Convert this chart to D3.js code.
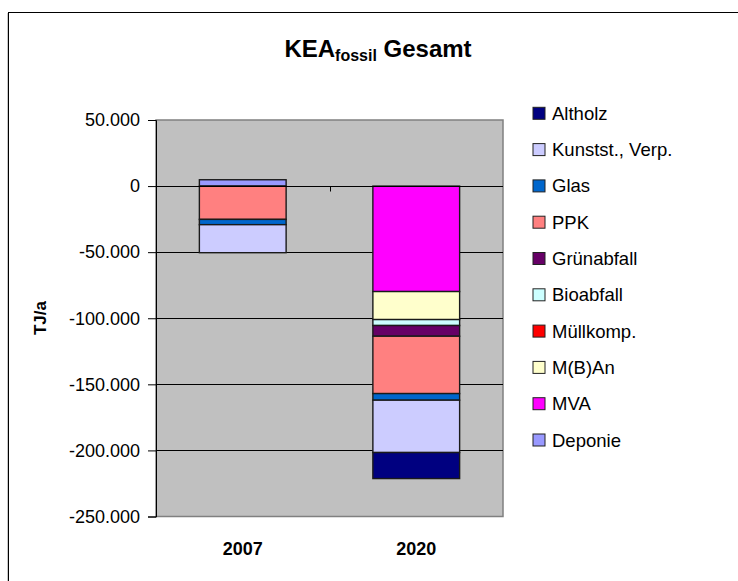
<!DOCTYPE html>
<html>
<head>
<meta charset="utf-8">
<script src="https://cdn.jsdelivr.net/npm/d3@7"></script>
<style>
  html, body { margin: 0; padding: 0; background: #fff; }
  svg { display: block; font-family: "Liberation Sans", Arial, sans-serif; }
</style>
</head>
<body>
<svg id="chart" width="738" height="581"></svg>
<script>
// Years on the category axis
const years = ["2007", "2020"];

// Series in stacking order (first series sits next to the zero line)
const seriesNames = ["Deponie", "MVA", "M(B)An", "Müllkomp.", "Bioabfall",
                     "Grünabfall", "PPK", "Glas", "Kunstst., Verp.", "Altholz"];
const seriesColors = ["#9999ff", "#ff00ff", "#ffffcc", "#ff0000", "#ccffff",
                      "#660066", "#ff8080", "#0066cc", "#ccccff", "#000080"];

// KEA fossil in TJ/a per series, one value per year
const deponie   = [4800, 0];
const mva       = [0, -79800];
const mban      = [0, -21200];
const muellkomp = [0, 0];
const bioabfall = [0, -4500];
const gruen     = [0, -8100];
const ppk       = [-25200, -43400];
const glas      = [-4000, -5000];
const kunstst   = [-21200, -39600];
const altholz   = [0, -19700];

// Y axis ticks
const yTicks = [50000, 0, -50000, -100000, -150000, -200000, -250000];

const seriesValues = [deponie, mva, mban, muellkomp, bioabfall, gruen, ppk, glas, kunstst, altholz];

const svg = d3.select("#chart");

// Chart frame (top and left edges)
svg.append("line").attr("x1", 7.5).attr("x2", 7.5).attr("y1", 13).attr("y2", 581)
  .attr("stroke", "#c8c8c8").attr("stroke-width", 1);
svg.append("line").attr("x1", 8.5).attr("x2", 8.5).attr("y1", 12.5).attr("y2", 581)
  .attr("stroke", "#000").attr("stroke-width", 1);
svg.append("line").attr("x1", 8).attr("x2", 738).attr("y1", 12.5).attr("y2", 12.5)
  .attr("stroke", "#000").attr("stroke-width", 1);

// Plot area
const plot = { left: 156, right: 503, top: 120, bottom: 516.5 };

const x = d3.scaleBand().domain(years)
  .range([plot.left, plot.right]).paddingInner(0.5).paddingOuter(0.25);
const xCat = d3.scaleBand().domain(years).range([plot.left, plot.right]);
const y = d3.scaleLinear().domain([-250000, 50000]).range([plot.bottom, plot.top]);

svg.append("rect")
  .attr("x", plot.left).attr("y", plot.top)
  .attr("width", plot.right - plot.left).attr("height", plot.bottom - plot.top)
  .attr("fill", "#c0c0c0").attr("stroke", "#808080").attr("stroke-width", 1.5);

// Horizontal gridlines
svg.append("g").selectAll("line")
  .data(yTicks.filter(t => t !== 50000 && t !== -250000))
  .join("line")
  .attr("x1", plot.left).attr("x2", plot.right)
  .attr("y1", d => Math.round(y(d)) + 0.5).attr("y2", d => Math.round(y(d)) + 0.5)
  .attr("stroke", "#000").attr("stroke-width", 1);

// Stack positive and negative values separately
const rects = [];
years.forEach((yr, i) => {
  let pos = 0, neg = 0;
  seriesNames.forEach((name, s) => {
    const v = seriesValues[s][i];
    if (v === 0) return;
    let y0, y1;
    if (v > 0) { y0 = pos; y1 = pos + v; pos = y1; }
    else { y0 = neg; y1 = neg + v; neg = y1; }
    rects.push({ year: yr, name, color: seriesColors[s], y0, y1 });
  });
});

svg.append("g").selectAll("rect")
  .data(rects)
  .join("rect")
  .attr("x", d => x(d.year))
  .attr("width", x.bandwidth())
  .attr("y", d => y(Math.max(d.y0, d.y1)))
  .attr("height", d => Math.abs(y(d.y0) - y(d.y1)))
  .attr("fill", d => d.color)
  .attr("stroke", "#1a1a1a")
  .attr("stroke-width", 1.4);

// Y axis, German number format with a plain hyphen for negatives
const fmt = d => (d < 0 ? "-" : "") + d3.format(",")(Math.abs(d)).replace(/,/g, ".");
const yAxis = d3.axisLeft(y).tickValues(yTicks).tickSize(8).tickPadding(8).tickFormat(fmt);
const yg = svg.append("g").attr("transform", `translate(${plot.left},0)`).call(yAxis);
yg.select(".domain").attr("stroke", "#000");
yg.selectAll(".tick line").attr("stroke", "#000");
yg.selectAll("text").attr("font-size", 18).attr("fill", "#000")
  .attr("font-family", "Liberation Sans, Arial, sans-serif");

// Category axis along the zero line with ticks between categories
const zeroY = Math.round(y(0)) + 0.5;
svg.append("line").attr("x1", plot.left).attr("x2", plot.right)
  .attr("y1", zeroY).attr("y2", zeroY).attr("stroke", "#000");
svg.append("g").selectAll("line")
  .data(years.slice(1))
  .join("line")
  .attr("x1", d => Math.round(xCat(d)) + 0.5).attr("x2", d => Math.round(xCat(d)) + 0.5)
  .attr("y1", zeroY).attr("y2", zeroY + 5)
  .attr("stroke", "#000");

// Category labels under the plot
svg.append("g").selectAll("text")
  .data(years)
  .join("text")
  .attr("x", d => xCat(d) + xCat.bandwidth() / 2)
  .attr("y", 555)
  .attr("text-anchor", "middle")
  .attr("font-size", 18).attr("font-weight", "bold")
  .text(d => d);

// Y axis title
svg.append("text")
  .attr("transform", "translate(46,318) rotate(-90)")
  .attr("text-anchor", "middle")
  .attr("font-size", 17).attr("font-weight", "bold")
  .text("TJ/a");

// Chart title with subscript
const title = svg.append("text")
  .attr("x", 378).attr("y", 57)
  .attr("text-anchor", "middle")
  .attr("font-size", 24).attr("font-weight", "bold");
title.append("tspan").text("KEA");
title.append("tspan").attr("font-size", 16).attr("dy", 4).text("fossil");
title.append("tspan").attr("dy", -4).text(" Gesamt");

// Legend, listed in reverse stacking order
const legendItems = seriesNames.map((n, i) => ({ name: n, color: seriesColors[i] })).reverse();
const lg = svg.append("g").selectAll("g")
  .data(legendItems)
  .join("g")
  .attr("transform", (d, i) => `translate(533,${113.3 + i * 36.3})`);
lg.append("rect")
  .attr("x", 0).attr("y", -6).attr("width", 12).attr("height", 12)
  .attr("fill", d => d.color).attr("stroke", "#222").attr("stroke-width", 1);
lg.append("text")
  .attr("x", 19).attr("y", 6.5)
  .attr("font-size", 18.5)
  .text(d => d.name);
</script>
</body>
</html>
